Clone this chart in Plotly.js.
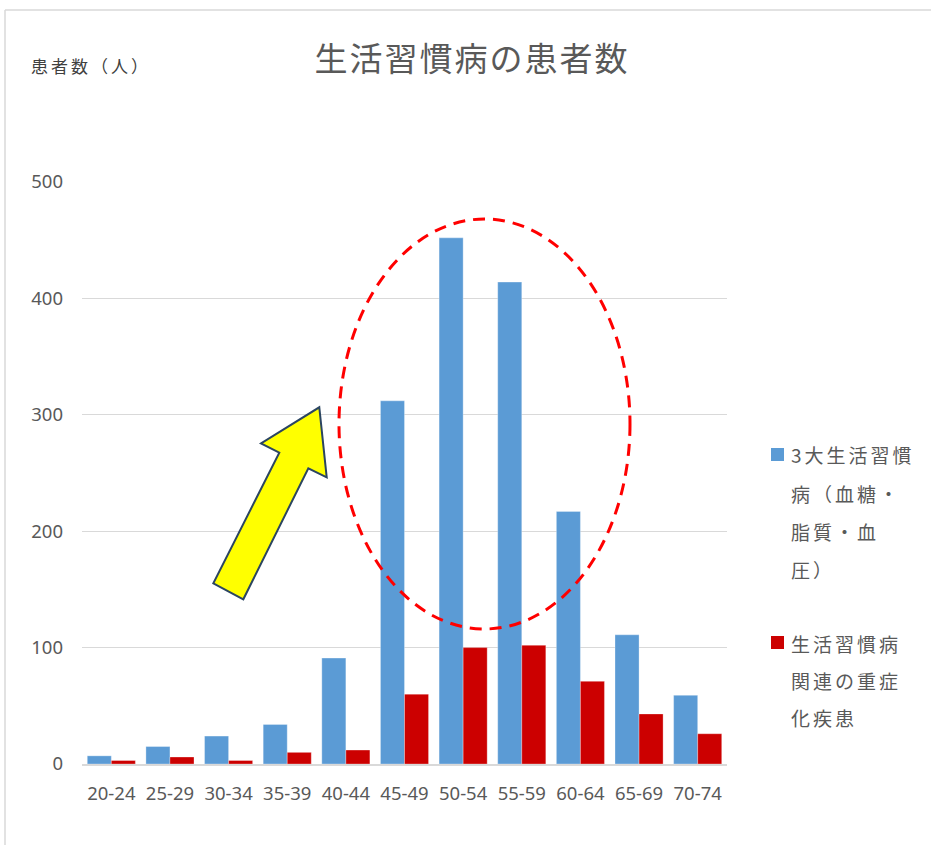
<!DOCTYPE html>
<html>
<head>
<meta charset="utf-8">
<script src="https://cdn.plot.ly/plotly-3.0.1.min.js"></script>
<style>
  html, body { margin: 0; padding: 0; background: #ffffff; }
  #chart { width: 931px; height: 845px; }
  .gtitle { letter-spacing: 2px; }
  .annotation-text { letter-spacing: 3px; }
</style>
</head>
<body>
<div id="chart"></div>
<script>
// ---- data ----
const categories = ["20-24","25-29","30-34","35-39","40-44","45-49","50-54","55-59","60-64","65-69","70-74"];
const seriesNames = ["3大生活習慣病（血糖・脂質・血圧）", "生活習慣病関連の重症化疾患"];
const bigThree = [7, 15, 24, 34, 91, 312, 452, 414, 217, 111, 59];
const severe   = [3, 6, 3, 10, 12, 60, 100, 102, 71, 43, 26];
const yTicks = [0, 100, 200, 300, 400, 500];
const titleText = "生活習慣病の患者数";
const yLabelText = "患者数（人）";
const legendLines1 = ["3大生活習慣", "病（血糖・", "脂質・血", "圧）"];
const legendLines2 = ["生活習慣病", "関連の重症", "化疾患"];

const colors = ["#5b9bd5", "#cc0000"];
const textColor = "#595959";
const cjk = "'Noto Sans CJK JP', 'Noto Sans', sans-serif";

// plot area in pixels
const W = 931, H = 845;
const L = 82, R = 727, T = 182, B = 764;
const px = x => (x - L) / (R - L);
const py = y => (B - y) / (B - T);

const traces = [
  { type: "bar", name: seriesNames[0], x: categories, y: bigThree,
    marker: { color: colors[0], line: { color: "rgba(255,255,255,0.6)", width: 0.5 } }, showlegend: false },
  { type: "bar", name: seriesNames[1], x: categories, y: severe,
    marker: { color: colors[1], line: { color: "rgba(255,255,255,0.6)", width: 0.5 } }, showlegend: false }
];

// arrow polygon points (pixels)
const arrowPts = [[319.3,407.3],[326.7,477.3],[308.3,468.3],[243.3,599.3],[213.3,583.3],[279.3,452.7],[261,443.3]];
const arrowPath = "M " + arrowPts.map(p => px(p[0]).toFixed(4) + "," + py(p[1]).toFixed(4)).join(" L ") + " Z";

const shapes = [
  // frame lines
  { type: "line", xref: "paper", yref: "paper", x0: px(5), x1: px(931), y0: py(10), y1: py(10),
    line: { color: "#d9d9d9", width: 1.5 } },
  { type: "line", xref: "paper", yref: "paper", x0: px(5), x1: px(5), y0: py(10), y1: py(845),
    line: { color: "#d9d9d9", width: 1.5 } },
  // dashed ellipse
  { type: "circle", xref: "paper", yref: "paper", x0: px(339), x1: px(630), y0: py(629), y1: py(219),
    line: { color: "#ff0000", width: 3, dash: "12px,8px" }, fillcolor: "rgba(0,0,0,0)" },
  // yellow arrow
  { type: "path", xref: "paper", yref: "paper", path: arrowPath,
    fillcolor: "#ffff00", line: { color: "#2b4561", width: 2 } },
  // legend squares
  { type: "rect", xref: "paper", yref: "paper", x0: px(771), x1: px(784), y0: py(461), y1: py(448),
    fillcolor: colors[0], line: { width: 0 } },
  { type: "rect", xref: "paper", yref: "paper", x0: px(771), x1: px(784), y0: py(649), y1: py(636),
    fillcolor: colors[1], line: { width: 0 } }
];

const annotations = [
  { text: yLabelText, xref: "paper", yref: "paper", x: px(29), y: py(65), xanchor: "left", yanchor: "middle",
    showarrow: false, font: { family: cjk, size: 17, color: "#404040" } }
];
const l1y = [454, 493, 531, 569];
legendLines1.forEach((t, i) => annotations.push({
  text: t, xref: "paper", yref: "paper", x: px(789), y: py(l1y[i]), xanchor: "left", yanchor: "middle",
  showarrow: false, font: { family: cjk, size: 19, color: textColor } }));
const l2y = [643, 680, 717];
legendLines2.forEach((t, i) => annotations.push({
  text: t, xref: "paper", yref: "paper", x: px(789), y: py(l2y[i]), xanchor: "left", yanchor: "middle",
  showarrow: false, font: { family: cjk, size: 19, color: textColor } }));

const layout = {
  width: W, height: H,
  margin: { l: L, r: W - R, t: T, b: H - B, pad: 0 },
  paper_bgcolor: "#ffffff", plot_bgcolor: "#ffffff",
  title: { text: titleText, x: 472 / W, xanchor: "center", y: 1 - 59 / H, yanchor: "middle",
           font: { family: cjk, size: 33, color: textColor } },
  barmode: "group", bargap: 0.18, bargroupgap: 0,
  showlegend: false,
  xaxis: { type: "category", showgrid: false, showline: true, linecolor: "#d9d9d9", linewidth: 1.5,
           ticks: "", ticklabelstandoff: 12, tickfont: { family: "'Noto Sans', sans-serif", size: 18.5, color: textColor },
           fixedrange: true },
  yaxis: { range: [0, 500], tickvals: yTicks, showgrid: true, gridcolor: "#d9d9d9", gridwidth: 1,
           zeroline: false, showline: false, ticks: "", ticklabelstandoff: 18,
           tickfont: { family: "'Noto Sans', sans-serif", size: 18.5, color: textColor }, fixedrange: true },
  shapes: shapes,
  annotations: annotations
};

Plotly.newPlot("chart", traces, layout, { displayModeBar: false, staticPlot: true });
</script>
</body>
</html>
